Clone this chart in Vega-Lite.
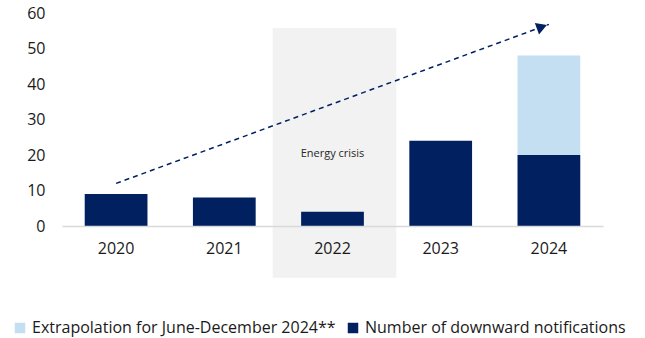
{
  "$schema": "https://vega.github.io/schema/vega-lite/v6.json",
  "autosize": "none",
  "padding": {"left": 62, "top": 13, "right": 42, "bottom": 112},
  "width": 541,
  "height": 213,
  "config": {
    "view": {"stroke": null},
    "font": "Open Sans",
    "text": {"font": "Open Sans"}
  },
  "datasets": {
    "bars": [
      {"year": "2020", "series": "Number of downward notifications", "v": 9, "ord": 1},
      {"year": "2021", "series": "Number of downward notifications", "v": 8, "ord": 1},
      {"year": "2022", "series": "Number of downward notifications", "v": 4, "ord": 1},
      {"year": "2023", "series": "Number of downward notifications", "v": 24, "ord": 1},
      {"year": "2024", "series": "Number of downward notifications", "v": 20, "ord": 1},
      {"year": "2024", "series": "Extrapolation for June-December 2024**", "v": 28, "ord": 2}
    ],
    "shade": [{"year": "2022", "v": 55.8, "v2": -14.6}],
    "arrow": [{"year": "2020", "v": 12}, {"year": "2024", "v": 56.8}],
    "tip": [{"year": "2024", "v": 56.8}],
    "note": [{"year": "2022", "v": 20.3, "label": "Energy crisis"}]
  },
  "encoding": {
    "x": {
      "field": "year",
      "type": "ordinal",
      "scale": {"domain": ["2020", "2021", "2022", "2023", "2024"], "paddingInner": 0.42, "paddingOuter": 0.21},
      "axis": {"title": null, "labelAngle": 0, "ticks": false, "domainColor": "#d9d9d9", "domainWidth": 1.5, "labelFontSize": 16, "labelColor": "#1a1a1a", "labelPadding": 14, "zindex": 1}
    },
    "y": {
      "field": "v", "type": "quantitative",
      "scale": {"domain": [0, 60]},
      "axis": {"title": null, "values": [0, 10, 20, 30, 40, 50, 60], "grid": false, "domain": false, "ticks": false, "labelFontSize": 16, "labelColor": "#1a1a1a", "labelPadding": 17}
    }
  },
  "layer": [
    {
      "data": {"name": "shade"},
      "mark": {"type": "bar", "color": "#f2f2f2", "width": {"band": 1.97}, "clip": false, "xOffset": 2},
      "encoding": {
        "y2": {"field": "v2"}
      }
    },
    {
      "data": {"name": "bars"},
      "mark": {"type": "bar"},
      "encoding": {
        "color": {
          "field": "series", "type": "nominal",
          "scale": {"domain": ["Extrapolation for June-December 2024**", "Number of downward notifications"], "range": ["#c4def2", "#002060"]},
          "legend": {"title": null, "orient": "none", "legendX": -50, "legendY": 307, "direction": "horizontal", "symbolType": "square", "symbolSize": 110, "symbolStrokeWidth": 0, "labelFontSize": 16, "labelColor": "#1a1a1a", "labelOffset": 4, "columnPadding": 9, "labelLimit": 400}
        },
        "order": {"field": "ord", "type": "quantitative"}
      }
    },
    {
      "data": {"name": "note"},
      "mark": {"type": "text", "fontSize": 11, "color": "#262626"},
      "encoding": {
        "text": {"field": "label"}
      }
    },
    {
      "data": {"name": "arrow"},
      "mark": {"type": "line", "color": "#002060", "strokeWidth": 1.5, "strokeDash": [5, 4]},
      "encoding": {}
    },
    {
      "data": {"name": "tip"},
      "mark": {"type": "point", "shape": "triangle-up", "filled": true, "color": "#002060", "opacity": 1, "size": 150, "angle": 70, "xOffset": -7, "yOffset": 2.5},
      "encoding": {}
    }
  ]
}
